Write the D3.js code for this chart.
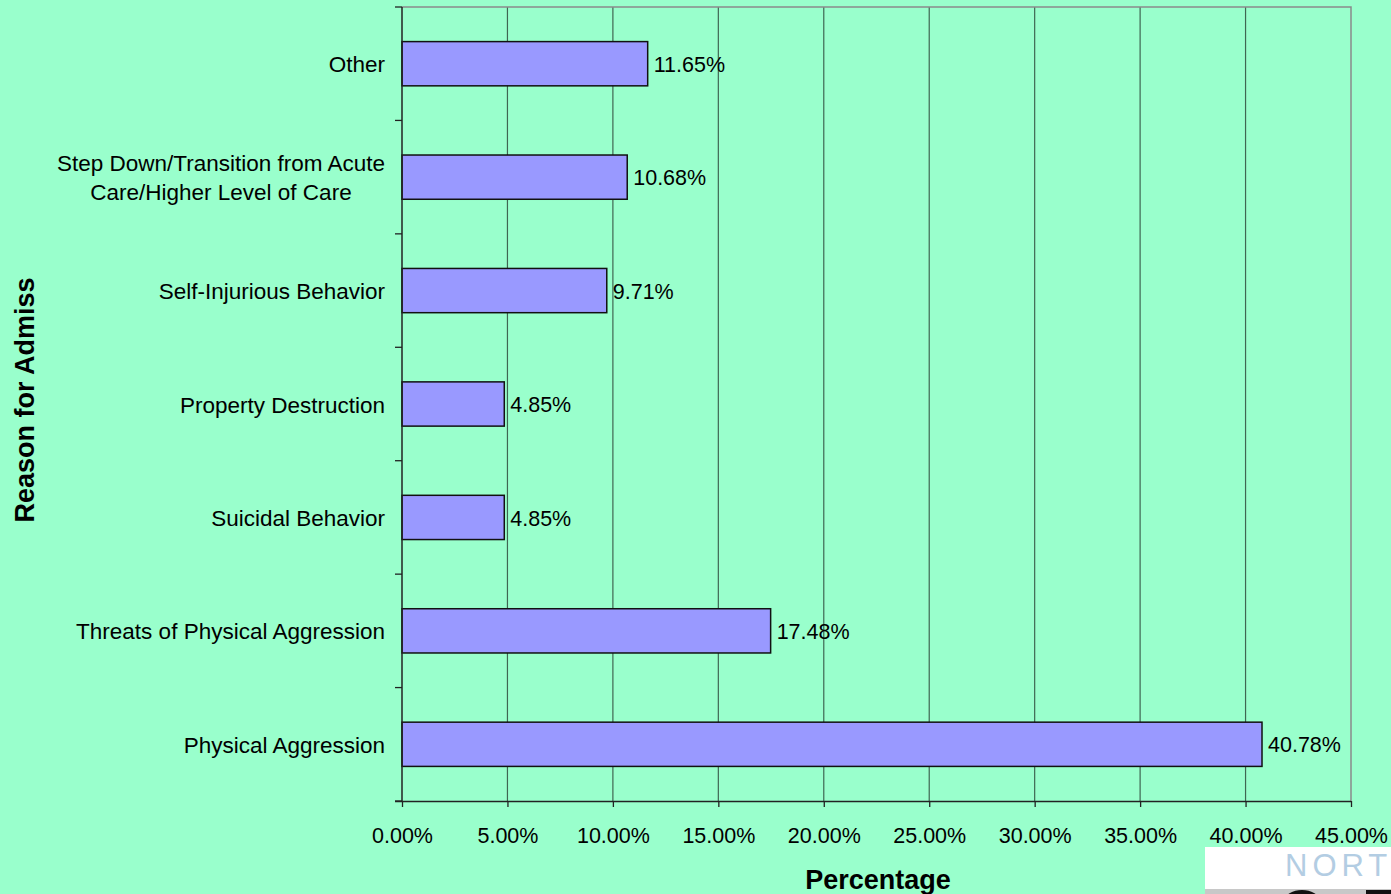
<!DOCTYPE html>
<html>
<head>
<meta charset="utf-8">
<script src="https://cdn.jsdelivr.net/npm/d3@7/dist/d3.min.js"></script>
<style>
  html, body { margin: 0; padding: 0; background: #99ffcc; }
  svg { display: block; }
  text { font-family: "Liberation Sans", Arial, sans-serif; fill: #000; }
</style>
</head>
<body>
<svg id="chart" width="1391" height="894"></svg>
<script>
// Reasons for admission, top to bottom as shown
const categories = [
  "Other",
  "Step Down/Transition from Acute\nCare/Higher Level of Care",
  "Self-Injurious Behavior",
  "Property Destruction",
  "Suicidal Behavior",
  "Threats of Physical Aggression",
  "Physical Aggression"
];
const percentages = [11.65, 10.68, 9.71, 4.85, 4.85, 17.48, 40.78];
const xTickValues = [0, 5, 10, 15, 20, 25, 30, 35, 40, 45];
const xAxisTitle = "Percentage";
const yAxisTitle = "Reason for Admiss";

const svg = d3.select("#chart");
const W = 1391, H = 894;
const plot = { left: 402, right: 1351, top: 7, bottom: 801 };
const catFont = 22.5, tickFont = 21.5, titleFont = 27;

svg.append("rect").attr("width", W).attr("height", H).attr("fill", "#99ffcc");

const x = d3.scaleLinear().domain([0, 45]).range([plot.left, plot.right]);
const y = d3.scaleBand().domain(categories).range([plot.top, plot.bottom])
  .paddingInner(0.61).paddingOuter(0.305);

// vertical gridlines
svg.append("g").selectAll("line")
  .data(xTickValues.filter(v => v > 0 && v < 45))
  .join("line")
  .attr("x1", d => x(d)).attr("x2", d => x(d))
  .attr("y1", plot.top).attr("y2", plot.bottom)
  .attr("stroke", "#3f6652").attr("stroke-width", 1.2);

// plot frame (top and right)
svg.append("path")
  .attr("d", `M${plot.left},${plot.top}H${plot.right}V${plot.bottom}`)
  .attr("fill", "none").attr("stroke", "#8a8a8a").attr("stroke-width", 1.5);

// bars
svg.append("g").selectAll("rect")
  .data(categories)
  .join("rect")
  .attr("x", x(0))
  .attr("y", d => y(d))
  .attr("width", (d, i) => x(percentages[i]) - x(0))
  .attr("height", y.bandwidth())
  .attr("fill", "#9999ff")
  .attr("stroke", "#111").attr("stroke-width", 1.5);

// value labels
svg.append("g").selectAll("text")
  .data(categories)
  .join("text")
  .attr("x", (d, i) => x(percentages[i]) + 6)
  .attr("y", d => y(d) + y.bandwidth() / 2)
  .attr("dy", "0.38em")
  .attr("font-size", tickFont)
  .text((d, i) => percentages[i].toFixed(2) + "%");

// x axis
const xAxis = d3.axisBottom(x).tickValues(xTickValues)
  .tickFormat(d => d.toFixed(2) + "%").tickSize(6).tickSizeOuter(0).tickPadding(21);
const gx = svg.append("g").attr("transform", `translate(0,${plot.bottom})`).call(xAxis);
gx.select(".domain").attr("stroke", "#222").attr("stroke-width", 1.5)
  .attr("d", `M${plot.left - 7},0.5H${plot.right}`);
gx.selectAll(".tick line").attr("stroke", "#222").attr("stroke-width", 1.3);
gx.selectAll(".tick text").attr("font-size", tickFont)
  .attr("font-family", "Liberation Sans, Arial, sans-serif").attr("fill", "#000");

// y axis: line with ticks between categories
const boundaries = d3.range(categories.length + 1)
  .map(i => plot.top + i * (plot.bottom - plot.top) / categories.length);
svg.append("line")
  .attr("x1", plot.left).attr("x2", plot.left)
  .attr("y1", plot.top).attr("y2", plot.bottom)
  .attr("stroke", "#222").attr("stroke-width", 1.5);
svg.append("g").selectAll("line")
  .data(boundaries)
  .join("line")
  .attr("x1", plot.left - 7).attr("x2", plot.left)
  .attr("y1", d => d).attr("y2", d => d)
  .attr("stroke", "#222").attr("stroke-width", 1.3);

// category labels
const lineH = 29;
svg.append("g").selectAll("text")
  .data(categories)
  .join("text")
  .attr("font-size", catFont)
  .attr("text-anchor", "end")
  .each(function (d) {
    const lines = d.split("\n");
    const t = d3.select(this);
    const cy = y(d) + y.bandwidth() / 2;
    if (lines.length === 1) {
      t.attr("x", 385).attr("y", cy).attr("dy", "0.38em").text(d);
    } else {
      // multi-line labels are centred as a block whose right edge is at the axis
      const tmp = svg.append("text").attr("font-size", catFont);
      const widths = lines.map(l => { tmp.text(l); return tmp.node().getComputedTextLength(); });
      tmp.remove();
      const maxW = d3.max(widths);
      const centerX = 385 - maxW / 2;
      t.attr("text-anchor", "middle");
      lines.forEach((l, k) => {
        t.append("tspan")
          .attr("x", centerX)
          .attr("y", cy + (k - (lines.length - 1) / 2) * lineH)
          .attr("dy", "0.38em")
          .text(l);
      });
    }
  });

// axis titles
svg.append("text")
  .attr("x", 878).attr("y", 879).attr("dy", "0.36em")
  .attr("text-anchor", "middle").attr("font-size", titleFont).attr("font-weight", "bold")
  .text(xAxisTitle);
svg.append("text")
  .attr("transform", "translate(24,400) rotate(-90)")
  .attr("dy", "0.36em")
  .attr("text-anchor", "middle").attr("font-size", titleFont).attr("font-weight", "bold")
  .text(yAxisTitle);

// corner logo
const logo = svg.append("g");
logo.append("rect").attr("x", 1205).attr("y", 847).attr("width", 186).attr("height", 42).attr("fill", "#fff");
logo.append("rect").attr("x", 1205).attr("y", 889).attr("width", 186).attr("height", 5).attr("fill", "#c8c8c8");
logo.append("ellipse").attr("cx", 1302).attr("cy", 900).attr("rx", 17).attr("ry", 10).attr("fill", "#111");
logo.append("rect").attr("x", 1366).attr("y", 890).attr("width", 25).attr("height", 4).attr("fill", "#111");
logo.append("text")
  .attr("x", 1285).attr("y", 876)
  .attr("font-size", 31).attr("letter-spacing", 5)
  .attr("font-family", "Lato, 'Liberation Sans', sans-serif")
  .style("fill", "#b3cde3")
  .text("NORT");
</script>
</body>
</html>
